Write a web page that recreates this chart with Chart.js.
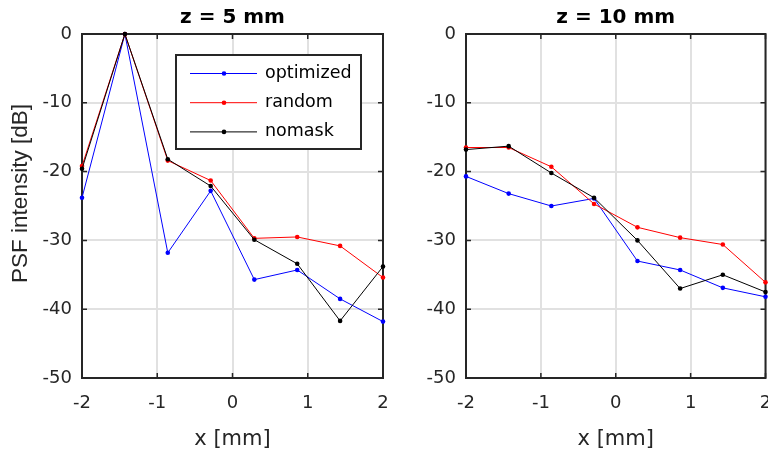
<!DOCTYPE html>
<html>
<head>
<meta charset="utf-8">
<script src="https://cdn.jsdelivr.net/npm/chart.js@4/dist/chart.umd.min.js"></script>
<style>
  html, body { margin: 0; padding: 0; background: #ffffff; overflow: hidden; width: 768px; height: 455px; }
  canvas { position: absolute; top: 0; }
  #c1 { left: 0px; }
  #c2 { left: 400px; }
</style>
</head>
<body>
<canvas id="c1" width="404" height="455"></canvas>
<canvas id="c2" width="420" height="455"></canvas>
<script>
// ---- data ----
const xPositions = [-2, -1.43, -0.86, -0.29, 0.29, 0.86, 1.43, 2];
const seriesNames = ['optimized', 'random', 'nomask'];
const panelTitles = ['z = 5 mm', 'z = 10 mm'];
const z5Optimized = [-23.8, 0, -31.8, -22.8, -35.7, -34.3, -38.5, -41.8];
const z5Random    = [-19.2, 0, -18.4, -21.3, -29.7, -29.5, -30.8, -35.4];
const z5Nomask    = [-19.6, 0, -18.2, -22.1, -29.9, -33.4, -41.7, -33.8];
const z10Optimized = [-20.7, -23.2, -25.0, -23.9, -33.0, -34.3, -36.9, -38.2];
const z10Random    = [-16.5, -16.5, -19.3, -24.7, -28.1, -29.6, -30.6, -36.1];
const z10Nomask    = [-16.8, -16.3, -20.2, -23.8, -30.0, -37.0, -35.0, -37.5];
const xTickValues = [-2, -1, 0, 1, 2];
const yTickValues = [-50, -40, -30, -20, -10, 0];
const xAxisLabel = 'x [mm]';
const yAxisLabel = 'PSF intensity [dB]';

const seriesColors = ['#0000ff', '#ff0000', '#000000'];
const AXIS = '#262626';

function makeDatasets(vals) {
  return vals.map((v, i) => ({
    label: seriesNames[i],
    data: xPositions.map((x, k) => ({ x: x, y: v[k] })),
    borderColor: seriesColors[i],
    backgroundColor: seriesColors[i],
    borderWidth: 1,
    pointRadius: 2.3,
    pointBorderWidth: 0,
    pointHoverRadius: 2.3,
    tension: 0,
    clip: false,
    order: 3 - i
  }));
}

const boxPlugin = {
  id: 'matlabBox',
  beforeDatasetsDraw(chart) {
    const { ctx, chartArea: a, scales } = chart;
    ctx.save();
    ctx.strokeStyle = AXIS;
    ctx.lineWidth = 2;
    ctx.strokeRect(a.left, a.top, a.right - a.left, a.bottom - a.top);
    ctx.lineWidth = 1.5;
    const tl = 5;
    ctx.beginPath();
    xTickValues.forEach(v => {
      const px = scales.x.getPixelForValue(v);
      ctx.moveTo(px, a.bottom); ctx.lineTo(px, a.bottom - tl);
      ctx.moveTo(px, a.top); ctx.lineTo(px, a.top + tl);
    });
    yTickValues.forEach(v => {
      const py = scales.y.getPixelForValue(v);
      ctx.moveTo(a.left, py); ctx.lineTo(a.left + tl, py);
      ctx.moveTo(a.right, py); ctx.lineTo(a.right - tl, py);
    });
    ctx.stroke();
    ctx.restore();
  }
};

const legendPlugin = {
  id: 'boxLegend',
  afterDatasetsDraw(chart, args, opts) {
    if (!opts.show) return;
    const { ctx, chartArea: a } = chart;
    const L = a.left + 94, R = a.right - 22, T = a.top + 21, B = a.top + 115;
    ctx.save();
    ctx.fillStyle = '#ffffff';
    ctx.fillRect(L, T, R - L, B - T);
    ctx.strokeStyle = '#262626';
    ctx.lineWidth = 2;
    ctx.strokeRect(L, T, R - L, B - T);
    ctx.font = '17.5px "DejaVu Sans"';
    ctx.textBaseline = 'middle';
    ctx.textAlign = 'left';
    chart.data.datasets.forEach((ds, i) => {
      const y = T + 18.5 + i * 29.2;
      ctx.strokeStyle = ds.borderColor;
      ctx.lineWidth = 1;
      ctx.beginPath();
      ctx.moveTo(L + 14, y); ctx.lineTo(L + 81, y);
      ctx.stroke();
      ctx.fillStyle = ds.borderColor;
      ctx.beginPath();
      ctx.arc(L + 48, y, 2.3, 0, Math.PI * 2);
      ctx.fill();
      ctx.fillStyle = '#000000';
      ctx.fillText(ds.label, L + 89, y);
    });
    ctx.restore();
  }
};

function makeChart(id, title, vals, yWidth, padRight, showYTitle, showLegend) {
  return new Chart(document.getElementById(id), {
    type: 'line',
    data: { datasets: makeDatasets(vals) },
    plugins: [boxPlugin, legendPlugin],
    options: {
      responsive: false,
      animation: false,
      events: [],
      layout: { padding: { left: 0, right: padRight, top: 0, bottom: 0 } },
      plugins: {
        legend: { display: false },
        tooltip: { enabled: false },
        boxLegend: { show: showLegend },
        title: {
          display: true,
          text: title,
          fullSize: false,
          color: '#000000',
          font: { family: '"DejaVu Sans"', size: 20, weight: 'bold', lineHeight: 1.2 },
          padding: { top: 5.5, bottom: 4.5 }
        }
      },
      scales: {
        x: {
          type: 'linear',
          min: -2, max: 2,
          afterBuildTicks: (s) => { s.ticks = xTickValues.map(v => ({ value: v })); },
          afterFit: (s) => { s.height = 77; },
          grid: { color: '#e1e1e1', lineWidth: 2, drawTicks: false },
          border: { display: false },
          ticks: { color: AXIS, padding: 15, maxRotation: 0, font: { family: '"DejaVu Sans"', size: 18 } },
          title: { display: true, text: xAxisLabel, color: AXIS, padding: { top: 0, bottom: 2.4 },
                   font: { family: '"DejaVu Sans"', size: 21, lineHeight: 1.2 } }
        },
        y: {
          type: 'linear',
          min: -50, max: 0,
          afterBuildTicks: (s) => { s.ticks = yTickValues.map(v => ({ value: v })); },
          afterFit: (s) => { s.width = yWidth; },
          grid: { color: '#e1e1e1', lineWidth: 2, drawTicks: false },
          border: { display: false },
          ticks: { color: AXIS, padding: 10, font: { family: '"DejaVu Sans"', size: 18 } },
          title: { display: showYTitle, text: '    ' + yAxisLabel, color: AXIS, padding: { top: 7.5, bottom: 0 },
                   font: { family: '"Liberation Sans"', size: 22.5, lineHeight: 1.2 } }
        }
      }
    }
  });
}

makeChart('c1', panelTitles[0], [z5Optimized, z5Random, z5Nomask], 82, 21, true, true);
makeChart('c2', panelTitles[1], [z10Optimized, z10Random, z10Nomask], 66, 54.5, false, false);
</script>
</body>
</html>
